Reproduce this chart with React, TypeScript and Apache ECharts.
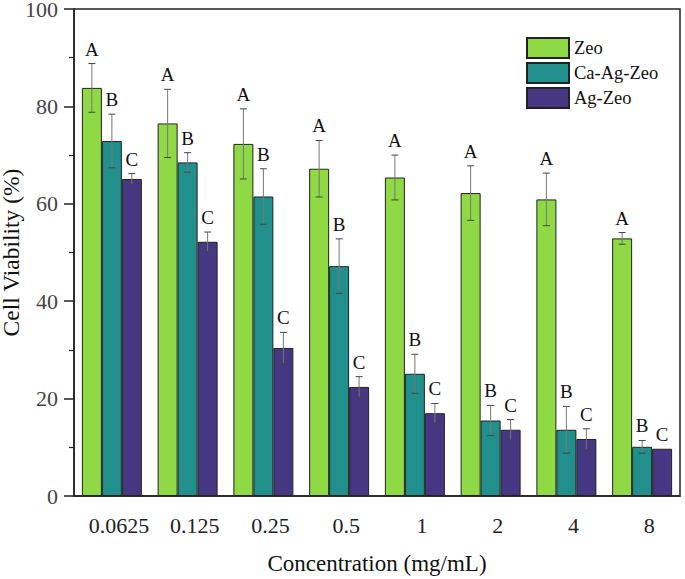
import React, { useEffect, useRef } from "react";
import * as echarts from "echarts";

const categories = ["0.0625", "0.125", "0.25", "0.5", "1", "2", "4", "8"];
const seriesNames = ["Zeo", "Ca-Ag-Zeo", "Ag-Zeo"];
const zeo = [83.8, 76.5, 72.3, 67.2, 65.4, 62.2, 60.9, 52.9];
const caAgZeo = [72.9, 68.5, 61.5, 47.2, 25.1, 15.5, 13.6, 10.1];
const agZeo = [65.1, 52.2, 30.4, 22.4, 17.0, 13.6, 11.7, 9.7];
const zeoErr = [5.0, 7.0, 7.2, 5.8, 4.6, 5.6, 5.4, 1.2];
const caAgZeoErr = [5.5, 2.0, 5.7, 5.6, 4.0, 3.1, 4.8, 1.3];
const agZeoErr = [1.1, 2.0, 3.2, 2.1, 2.0, 2.1, 2.1, 0.0];
const zeoLetters = ["A", "A", "A", "A", "A", "A", "A", "A"];
const caAgZeoLetters = ["B", "B", "B", "B", "B", "B", "B", "B"];
const agZeoLetters = ["C", "C", "C", "C", "C", "C", "C", "C"];
const colors = ["#8fd944", "#21908c", "#453781"];

const FONT = "Liberation Serif, serif";
const BAR_FRAC = 0.264;

export default function App() {
  const ref = useRef<HTMLDivElement>(null);
  useEffect(() => {
    if (!ref.current) return;
    const chart = echarts.init(ref.current, null, { renderer: "svg" });
    const values = [zeo, caAgZeo, agZeo];
    const errs = [zeoErr, caAgZeoErr, agZeoErr];
    const letters = [zeoLetters, caAgZeoLetters, agZeoLetters];

    const barSeries = seriesNames.map((name, s) => ({
      name,
      type: "bar",
      data: values[s],
      barWidth: BAR_FRAC * 100 + "%",
      barGap: "0%",
      itemStyle: { color: colors[s], borderColor: "#222", borderWidth: 1 },
      z: 2,
    }));

    const errSeries = seriesNames.map((name, s) => ({
      name: name + "-err",
      type: "custom",
      z: 5,
      silent: true,
      data: values[s].map((v, i) => [i, v, errs[s][i]]),
      renderItem: (params: any, api: any) => {
        const i = api.value(0);
        const v = api.value(1);
        const e = api.value(2);
        const band = api.size([1, 0])[0];
        const dx = (s - 1) * band * BAR_FRAC;
        const top = api.coord([i, v + e]);
        const bot = api.coord([i, v - e]);
        const x = top[0] + dx;
        const cap = 3.5;
        const children: any[] = [];
        if (e > 0) {
          children.push(
            { type: "line", shape: { x1: x, y1: top[1], x2: x, y2: bot[1] }, style: { stroke: "#777", lineWidth: 1 } },
            { type: "line", shape: { x1: x - cap, y1: top[1], x2: x + cap, y2: top[1] }, style: { stroke: "#444", lineWidth: 1 } },
            { type: "line", shape: { x1: x - cap, y1: bot[1], x2: x + cap, y2: bot[1] }, style: { stroke: "#444", lineWidth: 1 } }
          );
        }
        children.push({
          type: "text",
          x: x,
          y: top[1] - 5,
          style: {
            text: letters[s][i],
            fontFamily: FONT,
            fontSize: 19,
            fill: "#111",
            align: "center",
            verticalAlign: "bottom",
          },
        });
        return { type: "group", children };
      },
    }));

    chart.setOption({
      animation: false,
      textStyle: { fontFamily: FONT },
      grid: {
        left: 74,
        right: 5,
        top: 9,
        bottom: 83,
        outerBoundsMode: "none",
        containLabel: false,
        show: true,
        borderColor: "#222",
        borderWidth: 1.5,
        backgroundColor: "transparent",
      },
      legend: {
        data: seriesNames,
        orient: "vertical",
        left: 526,
        top: 37,
        padding: 0,
        itemWidth: 42,
        itemHeight: 20,
        itemGap: 3,
        icon: "rect",
        textStyle: { fontFamily: FONT, fontSize: 18.5, color: "#111" },
      },
      xAxis: {
        type: "category",
        data: categories,
        name: "Concentration (mg/mL)",
        nameLocation: "middle",
        nameGap: 56,
        nameMoveOverlap: false,
        nameTextStyle: { fontFamily: FONT, fontSize: 23, color: "#111" },
        axisLine: { lineStyle: { color: "#222", width: 1.5 } },
        axisTick: { alignWithLabel: true, length: 8, lineStyle: { color: "#222", width: 1.5 } },
        axisLabel: { interval: 0, fontFamily: FONT, fontSize: 22, color: "#222", margin: 18, padding: [0, 0, 0, 14] },
      },
      yAxis: {
        type: "value",
        min: 0,
        max: 100,
        interval: 20,
        name: "Cell Viability (%)",
        nameLocation: "middle",
        nameGap: 51,
        nameMoveOverlap: false,
        nameTextStyle: { fontFamily: FONT, fontSize: 23.5, color: "#111" },
        axisLine: { show: true, lineStyle: { color: "#222", width: 1.5 } },
        axisTick: { show: true, length: 10, lineStyle: { color: "#222", width: 1.5 } },
        minorTick: { show: true, splitNumber: 2, length: 5, lineStyle: { color: "#222", width: 1.2 } },
        splitLine: { show: false },
        axisLabel: { fontFamily: FONT, fontSize: 22, color: "#444", margin: 16 },
      },
      series: [...barSeries, ...errSeries],
    });
    return () => chart.dispose();
  }, []);
  return <div ref={ref} style={{ position: "absolute", left: 0, top: 0, width: 685, height: 579 }} />;
}
